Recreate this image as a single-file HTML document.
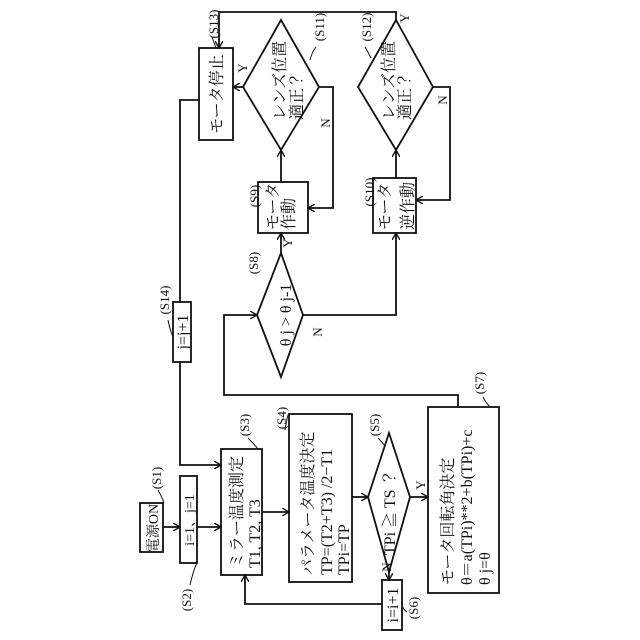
<!DOCTYPE html>
<html><head><meta charset="utf-8"><style>
html,body{margin:0;padding:0;background:#fff;}
svg{display:block;}
text{font-family:"Liberation Serif","Noto Serif CJK JP",serif;fill:#111;}
</style></head><body>
<svg width="640" height="640" viewBox="0 0 640 640" xmlns="http://www.w3.org/2000/svg">
<defs><marker id="a" markerWidth="8" markerHeight="8" refX="7" refY="4" orient="auto" markerUnits="userSpaceOnUse"><path d="M0,0 L7,4 L0,8" fill="none" stroke="#111" stroke-width="1.4"/></marker></defs>
<g fill="none" stroke="#111" stroke-width="1.8">
<rect x="140" y="503" width="23" height="49"/>
<rect x="180" y="476" width="17" height="87"/>
<rect x="221" y="449" width="41" height="126"/>
<rect x="289" y="414" width="63" height="168"/>
<rect x="382" y="580" width="20" height="50"/>
<rect x="428" y="407" width="71" height="186"/>
<rect x="199" y="48" width="34" height="92"/>
<rect x="173" y="302" width="18" height="60"/>
<rect x="258" y="182" width="50" height="51"/>
<rect x="373" y="178" width="43" height="55"/>
<path d="M368,497 L389,433 L410,497 L389,572 Z"/>
<path d="M243,87 L281,20 L319,87 L281,150 Z"/>
<path d="M358,87 L396,20 L433,87 L396,150 Z"/>
<path d="M257,315 L281,253 L303,315 L281,377 Z"/>
<path d="M163,527 H180" marker-end="url(#a)"/>
<path d="M197,527 H221" marker-end="url(#a)"/>
<path d="M199,100 H180 V302"/>
<path d="M180,362 V465 H221" marker-end="url(#a)"/>
<path d="M262,512 H289" marker-end="url(#a)"/>
<path d="M352,497 H368" marker-end="url(#a)"/>
<path d="M410,497 H428" marker-end="url(#a)"/>
<path d="M389,572 V580" marker-end="url(#a)"/>
<path d="M382,604 H245 V575" marker-end="url(#a)"/>
<path d="M458,407 V395 H224 V315 H257" marker-end="url(#a)"/>
<path d="M281,253 V233" marker-end="url(#a)"/>
<path d="M303,315 H396 V233" marker-end="url(#a)"/>
<path d="M281,182 V150" marker-end="url(#a)"/>
<path d="M396,178 V150" marker-end="url(#a)"/>
<path d="M243,87 H233" marker-end="url(#a)"/>
<path d="M319,87 H333 V208 H308" marker-end="url(#a)"/>
<path d="M433,87 H450 V200 H416" marker-end="url(#a)"/>
<path d="M396,20 V12 H219 V48" marker-end="url(#a)"/>
</g>
<g font-size="16">
<text transform="translate(158,528) rotate(-90)" text-anchor="middle" font-size="14">電源ON</text>
<text transform="translate(194,520) rotate(-90)" text-anchor="middle" font-size="14">i=1、j=1</text>
<text transform="translate(242,568) rotate(-90)">ミラー温度測定</text>
<text transform="translate(260,568) rotate(-90)">T1, T2, T3</text>
<text transform="translate(313,575) rotate(-90)">パラメータ温度決定</text>
<text transform="translate(332,575) rotate(-90)">TP=(T2+T3) /2−T1</text>
<text transform="translate(349,575) rotate(-90)">TPi=TP</text>
<text transform="translate(395,555) rotate(-90)">TPi ≧ TS  ？</text>
<text transform="translate(398,605) rotate(-90)" text-anchor="middle">i=i+1</text>
<text transform="translate(453,585) rotate(-90)">モータ回転角決定</text>
<text transform="translate(472,585) rotate(-90)">θ＝a(TPi)**2+b(TPi)+c</text>
<text transform="translate(490,585) rotate(-90)">θ j=θ</text>
<text transform="translate(222,94) rotate(-90)" text-anchor="middle">モータ停止</text>
<text transform="translate(188,332) rotate(-90)" text-anchor="middle">j=j+1</text>
<text transform="translate(285,120) rotate(-90)">レンズ位置</text>
<text transform="translate(302,120) rotate(-90)">適正？</text>
<text transform="translate(394,120) rotate(-90)">レンズ位置</text>
<text transform="translate(410,120) rotate(-90)">適正？</text>
<text transform="translate(278,230) rotate(-90)">モータ</text>
<text transform="translate(294,230) rotate(-90)">作動</text>
<text transform="translate(390,230) rotate(-90)">モータ</text>
<text transform="translate(413,230) rotate(-90)">逆作動</text>
<text transform="translate(291,315) rotate(-90)" text-anchor="middle">θ j &gt; θ j-1</text>
</g>
<g font-size="13">
<text transform="translate(425,485) rotate(-90)" text-anchor="middle">Y</text>
<text transform="translate(391,567) rotate(-90)" text-anchor="middle">N</text>
<text transform="translate(247,68) rotate(-90)" text-anchor="middle">Y</text>
<text transform="translate(330,123) rotate(-90)" text-anchor="middle">N</text>
<text transform="translate(409,18) rotate(-90)" text-anchor="middle">Y</text>
<text transform="translate(447,100) rotate(-90)" text-anchor="middle">N</text>
<text transform="translate(292,243) rotate(-90)" text-anchor="middle">Y</text>
<text transform="translate(322,332) rotate(-90)" text-anchor="middle">N</text>
<text transform="translate(161,478) rotate(-90)" text-anchor="middle">(S1)</text>
<text transform="translate(191,600) rotate(-90)" text-anchor="middle">(S2)</text>
<text transform="translate(249,425) rotate(-90)" text-anchor="middle">(S3)</text>
<text transform="translate(286,418) rotate(-90)" text-anchor="middle">(S4)</text>
<text transform="translate(379,425) rotate(-90)" text-anchor="middle">(S5)</text>
<text transform="translate(418,608) rotate(-90)" text-anchor="middle">(S6)</text>
<text transform="translate(484,383) rotate(-90)" text-anchor="middle">(S7)</text>
<text transform="translate(258,263) rotate(-90)" text-anchor="middle">(S8)</text>
<text transform="translate(259,196) rotate(-90)" text-anchor="middle">(S9)</text>
<text transform="translate(374,192) rotate(-90)" text-anchor="middle">(S10)</text>
<text transform="translate(324,27) rotate(-90)" text-anchor="middle">(S11)</text>
<text transform="translate(371,27) rotate(-90)" text-anchor="middle">(S12)</text>
<text transform="translate(218,24) rotate(-90)" text-anchor="middle">(S13)</text>
<text transform="translate(169,300) rotate(-90)" text-anchor="middle">(S14)</text>
</g>
<g fill="none" stroke="#111" stroke-width="1">
<path d="M158,490 Q162,497 164,503"/>
<path d="M190,585 Q194,568 197,563"/>
<path d="M248,438 Q254,444 258,449"/>
<path d="M285,430 Q288,410 290,414"/>
<path d="M378,438 Q382,442 384,445"/>
<path d="M407,612 Q404,610 402,606"/>
<path d="M483,397 Q486,403 490,407"/>
<path d="M316,47 Q312,52 310,60"/>
<path d="M365,47 Q368,52 371,58"/>
<path d="M212,37 Q214,42 216,48"/>
<path d="M168,320 Q170,330 173,337"/>
</g>
</svg>
</body></html>
